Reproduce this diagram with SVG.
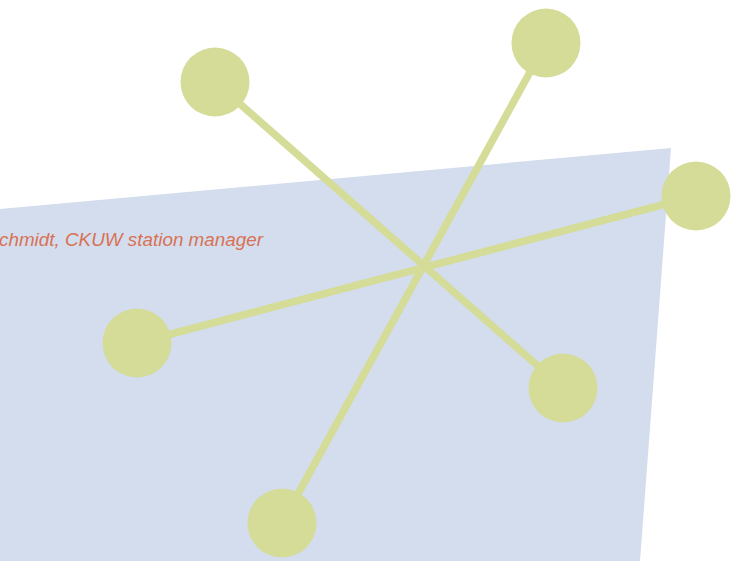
<svg xmlns="http://www.w3.org/2000/svg" width="735" height="561" viewBox="0 0 735 561">
<style>
.node{fill:#d4dc98}
.edge{stroke:#d4dc98;stroke-width:7.5;stroke-linecap:round;fill:none}
.lbl{font-family:"Liberation Sans",Arial,sans-serif;font-style:italic;font-size:18px;fill:#d97153}
</style>
<rect width="735" height="561" fill="#ffffff"/>
<polygon id="panel" points="0,209 671,148 640,561 0,561" fill="#d3ddee"/>
<text class="lbl" x="-1" y="246" textLength="264" lengthAdjust="spacingAndGlyphs">chmidt, CKUW station manager</text>
<g id="connectors">
<line class="edge" x1="215" y1="82" x2="563" y2="388"/>
<line class="edge" x1="546" y1="43" x2="282" y2="523"/>
<line class="edge" x1="696" y1="196" x2="137" y2="343"/>
</g>
<g id="n1"><circle class="node" cx="215" cy="82" r="34.5"/></g>
<g id="n2"><circle class="node" cx="546" cy="43" r="34.5"/></g>
<g id="n3"><circle class="node" cx="696" cy="196" r="34.5"/></g>
<g id="n4"><circle class="node" cx="137" cy="343" r="34.5"/></g>
<g id="n5"><circle class="node" cx="563" cy="388" r="34.5"/></g>
<g id="n6"><circle class="node" cx="282" cy="523" r="34.5"/></g>
</svg>
